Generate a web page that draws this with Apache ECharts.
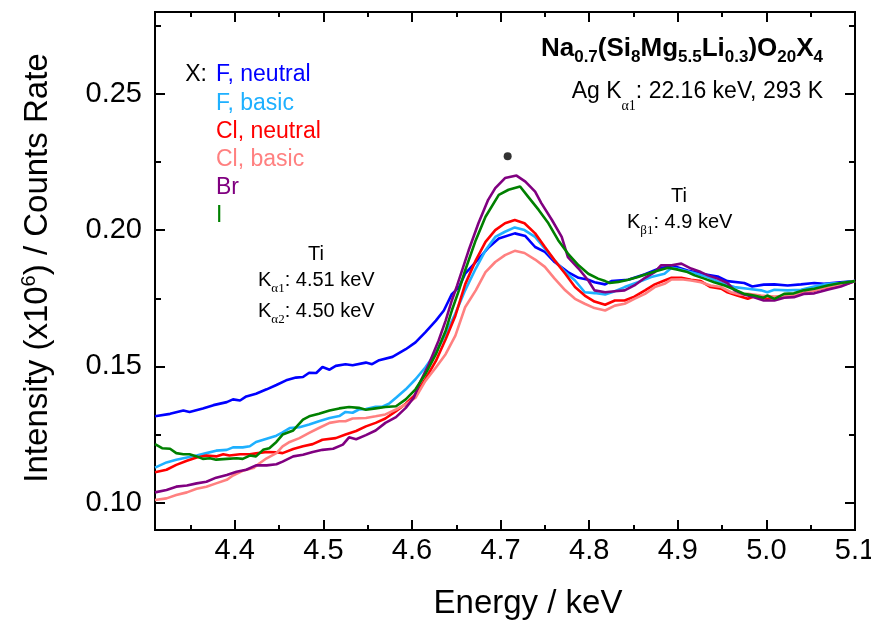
<!DOCTYPE html>
<html>
<head>
<meta charset="utf-8">
<script src="https://cdn.jsdelivr.net/npm/echarts@6/dist/echarts.min.js"></script>
<style>
html, body { margin: 0; padding: 0; background: #fff; }
#chart { width: 871px; height: 626px; }
</style>
</head>
<body>
<div id="chart"></div>
<script>
// energy (keV), intensity pairs
var fNeutral = [[4.310,0.1317],[4.327,0.1326],[4.342,0.1338],[4.349,0.1333],[4.364,0.1346],[4.376,0.1358],[4.391,0.1369],[4.398,0.1379],[4.406,0.1375],[4.413,0.1390],[4.424,0.1400],[4.436,0.1416],[4.447,0.1432],[4.458,0.1449],[4.469,0.1459],[4.477,0.1461],[4.484,0.1477],[4.492,0.1476],[4.499,0.1498],[4.507,0.1488],[4.514,0.1502],[4.525,0.1508],[4.533,0.1504],[4.548,0.1514],[4.555,0.1508],[4.563,0.1523],[4.578,0.1535],[4.593,0.1563],[4.604,0.1588],[4.615,0.1625],[4.627,0.1668],[4.636,0.1705],[4.645,0.1765],[4.653,0.1790],[4.660,0.1840],[4.672,0.1883],[4.687,0.1938],[4.698,0.1969],[4.716,0.1988],[4.728,0.1978],[4.739,0.1938],[4.750,0.1920],[4.761,0.1883],[4.776,0.1846],[4.788,0.1825],[4.799,0.1818],[4.806,0.1809],[4.818,0.1801],[4.825,0.1813],[4.844,0.1818],[4.863,0.1838],[4.881,0.1862],[4.896,0.1867],[4.911,0.1852],[4.930,0.1838],[4.945,0.1830],[4.956,0.1813],[4.975,0.1806],[4.984,0.1793],[4.997,0.1800],[5.009,0.1801],[5.024,0.1797],[5.039,0.1801],[5.054,0.1806],[5.065,0.1803],[5.080,0.1808],[5.100,0.1813]];
var fBasic = [[4.310,0.1129],[4.323,0.1148],[4.334,0.1158],[4.346,0.1166],[4.357,0.1173],[4.368,0.1182],[4.379,0.1191],[4.391,0.1194],[4.398,0.1203],[4.409,0.1203],[4.417,0.1207],[4.424,0.1223],[4.436,0.1235],[4.447,0.1246],[4.454,0.1258],[4.462,0.1274],[4.473,0.1277],[4.484,0.1287],[4.495,0.1299],[4.507,0.1311],[4.518,0.1318],[4.525,0.1333],[4.533,0.1330],[4.540,0.1342],[4.548,0.1344],[4.559,0.1352],[4.567,0.1353],[4.574,0.1363],[4.582,0.1385],[4.593,0.1416],[4.604,0.1453],[4.615,0.1496],[4.627,0.1551],[4.638,0.1619],[4.649,0.1694],[4.660,0.1779],[4.672,0.1859],[4.683,0.1926],[4.694,0.1975],[4.705,0.1994],[4.716,0.2010],[4.727,0.2000],[4.739,0.1975],[4.750,0.1932],[4.761,0.1889],[4.773,0.1846],[4.784,0.1815],[4.795,0.1772],[4.806,0.1769],[4.818,0.1764],[4.829,0.1776],[4.840,0.1791],[4.855,0.1809],[4.870,0.1828],[4.885,0.1840],[4.893,0.1862],[4.904,0.1855],[4.919,0.1842],[4.934,0.1828],[4.949,0.1806],[4.964,0.1791],[4.979,0.1785],[4.994,0.1779],[5.001,0.1772],[5.009,0.1781],[5.024,0.1779],[5.039,0.1781],[5.054,0.1793],[5.069,0.1803],[5.084,0.1806],[5.100,0.1813]];
var clNeutral = [[4.310,0.1112],[4.323,0.1121],[4.334,0.1139],[4.346,0.1154],[4.357,0.1166],[4.368,0.1173],[4.379,0.1170],[4.387,0.1178],[4.394,0.1173],[4.406,0.1178],[4.417,0.1178],[4.424,0.1181],[4.436,0.1186],[4.447,0.1185],[4.454,0.1182],[4.466,0.1197],[4.477,0.1207],[4.488,0.1215],[4.499,0.1231],[4.514,0.1237],[4.525,0.1250],[4.537,0.1263],[4.548,0.1280],[4.559,0.1293],[4.570,0.1309],[4.582,0.1336],[4.593,0.1363],[4.604,0.1397],[4.615,0.1453],[4.627,0.1520],[4.638,0.1600],[4.649,0.1686],[4.660,0.1801],[4.672,0.1889],[4.683,0.1957],[4.694,0.2000],[4.705,0.2025],[4.716,0.2037],[4.727,0.2025],[4.739,0.1988],[4.750,0.1938],[4.761,0.1889],[4.773,0.1840],[4.784,0.1791],[4.795,0.1760],[4.806,0.1738],[4.818,0.1726],[4.829,0.1742],[4.840,0.1742],[4.851,0.1756],[4.863,0.1779],[4.874,0.1801],[4.885,0.1815],[4.893,0.1825],[4.904,0.1825],[4.915,0.1818],[4.926,0.1813],[4.937,0.1791],[4.949,0.1785],[4.956,0.1772],[4.967,0.1760],[4.979,0.1748],[4.986,0.1756],[4.994,0.1752],[5.001,0.1748],[5.016,0.1756],[5.031,0.1760],[5.046,0.1772],[5.061,0.1785],[5.076,0.1793],[5.091,0.1803],[5.100,0.1813]];
var clBasic = [[4.310,0.1010],[4.323,0.1016],[4.334,0.1028],[4.346,0.1038],[4.357,0.1051],[4.368,0.1059],[4.379,0.1071],[4.391,0.1084],[4.398,0.1100],[4.409,0.1117],[4.421,0.1127],[4.428,0.1145],[4.436,0.1163],[4.447,0.1182],[4.454,0.1207],[4.462,0.1223],[4.473,0.1237],[4.484,0.1256],[4.495,0.1274],[4.507,0.1293],[4.518,0.1299],[4.525,0.1299],[4.533,0.1309],[4.548,0.1311],[4.559,0.1317],[4.570,0.1324],[4.582,0.1342],[4.593,0.1361],[4.604,0.1385],[4.615,0.1446],[4.627,0.1496],[4.638,0.1545],[4.649,0.1613],[4.660,0.1717],[4.672,0.1779],[4.683,0.1846],[4.694,0.1883],[4.705,0.1908],[4.716,0.1924],[4.727,0.1916],[4.739,0.1892],[4.750,0.1865],[4.761,0.1822],[4.773,0.1779],[4.784,0.1748],[4.795,0.1730],[4.806,0.1714],[4.818,0.1705],[4.829,0.1723],[4.840,0.1730],[4.851,0.1748],[4.863,0.1766],[4.874,0.1791],[4.885,0.1803],[4.893,0.1819],[4.904,0.1820],[4.915,0.1815],[4.926,0.1809],[4.937,0.1797],[4.949,0.1791],[4.960,0.1772],[4.971,0.1763],[4.979,0.1766],[4.994,0.1760],[5.009,0.1756],[5.024,0.1760],[5.039,0.1766],[5.054,0.1779],[5.069,0.1791],[5.084,0.1801],[5.100,0.1813]];
var br = [[4.310,0.1038],[4.323,0.1047],[4.334,0.1059],[4.346,0.1063],[4.357,0.1071],[4.368,0.1077],[4.379,0.1092],[4.391,0.1102],[4.402,0.1114],[4.413,0.1121],[4.424,0.1137],[4.436,0.1137],[4.447,0.1141],[4.454,0.1151],[4.466,0.1170],[4.477,0.1176],[4.488,0.1186],[4.499,0.1194],[4.511,0.1198],[4.522,0.1213],[4.529,0.1240],[4.537,0.1233],[4.548,0.1248],[4.559,0.1265],[4.570,0.1293],[4.582,0.1314],[4.593,0.1348],[4.602,0.1385],[4.608,0.1434],[4.619,0.1508],[4.630,0.1594],[4.638,0.1668],[4.645,0.1742],[4.651,0.1797],[4.664,0.1926],[4.675,0.2025],[4.686,0.2111],[4.694,0.2154],[4.705,0.2191],[4.718,0.2200],[4.728,0.2178],[4.739,0.2141],[4.746,0.2099],[4.758,0.2037],[4.769,0.1975],[4.776,0.1901],[4.788,0.1859],[4.799,0.1815],[4.806,0.1779],[4.818,0.1772],[4.829,0.1776],[4.840,0.1779],[4.851,0.1797],[4.863,0.1825],[4.874,0.1846],[4.881,0.1871],[4.893,0.1871],[4.904,0.1877],[4.915,0.1859],[4.926,0.1846],[4.934,0.1834],[4.945,0.1822],[4.956,0.1806],[4.964,0.1779],[4.975,0.1764],[4.986,0.1754],[4.997,0.1742],[5.009,0.1742],[5.020,0.1752],[5.031,0.1754],[5.042,0.1766],[5.054,0.1768],[5.069,0.1781],[5.084,0.1793],[5.100,0.1813]];
var iodide = [[4.310,0.1215],[4.318,0.1200],[4.327,0.1198],[4.334,0.1182],[4.342,0.1178],[4.349,0.1178],[4.357,0.1170],[4.364,0.1161],[4.372,0.1163],[4.379,0.1158],[4.391,0.1161],[4.402,0.1163],[4.409,0.1161],[4.417,0.1173],[4.424,0.1170],[4.432,0.1194],[4.439,0.1200],[4.447,0.1223],[4.454,0.1250],[4.466,0.1265],[4.477,0.1305],[4.484,0.1317],[4.495,0.1326],[4.507,0.1338],[4.518,0.1346],[4.529,0.1351],[4.540,0.1348],[4.548,0.1341],[4.559,0.1346],[4.570,0.1351],[4.582,0.1354],[4.593,0.1379],[4.604,0.1416],[4.615,0.1471],[4.627,0.1545],[4.638,0.1631],[4.645,0.1705],[4.653,0.1779],[4.660,0.1852],[4.672,0.1963],[4.683,0.2049],[4.698,0.2129],[4.709,0.2148],[4.722,0.2160],[4.731,0.2123],[4.743,0.2074],[4.754,0.2025],[4.765,0.1963],[4.776,0.1914],[4.788,0.1871],[4.799,0.1840],[4.810,0.1822],[4.818,0.1813],[4.823,0.1806],[4.833,0.1810],[4.844,0.1818],[4.855,0.1828],[4.866,0.1840],[4.878,0.1852],[4.889,0.1862],[4.900,0.1855],[4.911,0.1846],[4.919,0.1834],[4.930,0.1822],[4.941,0.1809],[4.953,0.1797],[4.964,0.1782],[4.975,0.1766],[4.986,0.1760],[4.997,0.1752],[5.001,0.1760],[5.009,0.1748],[5.020,0.1766],[5.031,0.1768],[5.042,0.1779],[5.054,0.1785],[5.069,0.1797],[5.084,0.1806],[5.100,0.1813]];
var peakMark = [[4.708, 0.2271]];

var seriesNames = ['F, neutral', 'F, basic', 'Cl, neutral', 'Cl, basic', 'Br', 'I'];
var seriesColors = ['#0000ff', '#1eb0ff', '#ff0000', '#ff8080', '#800080', '#008000'];
var seriesData = [fNeutral, fBasic, clNeutral, clBasic, br, iodide];

var xMajor = [4.4, 4.5, 4.6, 4.7, 4.8, 4.9, 5.0, 5.1];
var xMinor = [4.35, 4.45, 4.55, 4.65, 4.75, 4.85, 4.95, 5.05];
var yMajor = [0.10, 0.15, 0.20, 0.25];
var yMinor = [0.125, 0.175, 0.225, 0.275];

var font = 'Liberation Sans, Arial, sans-serif';
var serif = 'Liberation Serif, Times New Roman, serif';

function xAxisDef(pos, ticks, len, labels) {
  return {
    type: 'value', position: pos, min: 4.31, max: 5.1,
    axisLine: { show: true, onZero: false, lineStyle: { color: '#000', width: 2 } },
    axisTick: { show: true, inside: true, length: len, customValues: ticks, lineStyle: { color: '#000', width: 2 } },
    axisLabel: labels ? {
      customValues: ticks, margin: 6, color: '#000', fontSize: 29, fontFamily: font,
      formatter: function(v) { return v.toFixed(1); }
    } : { show: false },
    splitLine: { show: false }
  };
}
function yAxisDef(pos, ticks, len, labels) {
  return {
    type: 'value', position: pos, min: 0.09, max: 0.28,
    axisLine: { show: true, onZero: false, lineStyle: { color: '#000', width: 2 } },
    axisTick: { show: true, inside: true, length: len, customValues: ticks, lineStyle: { color: '#000', width: 2 } },
    axisLabel: labels ? {
      customValues: ticks, margin: 13, color: '#000', fontSize: 29, fontFamily: font,
      formatter: function(v) { return v.toFixed(2); }
    } : { show: false },
    splitLine: { show: false }
  };
}

var series = seriesData.map(function(d, i) {
  return {
    name: seriesNames[i], type: 'line', data: d, symbol: 'none',
    lineStyle: { color: seriesColors[i], width: 2.6 }, z: 2 + i
  };
});
series.push({
  type: 'scatter', data: peakMark, symbolSize: 8,
  itemStyle: { color: '#000' }, z: 10
});

function txt(x, y, text, size, color, align, extra) {
  var o = {
    type: 'text', x: x, y: y, z: 100,
    style: { text: text, fontSize: size, fontFamily: font, fill: color || '#000',
             align: align || 'left', verticalAlign: 'middle' }
  };
  if (extra) for (var k in extra) o.style[k] = extra[k];
  return o;
}

var graphics = [
  txt(207, 75, 'X:', 23, '#000', 'right')
];
seriesNames.forEach(function(n, i) {
  graphics.push(txt(216, 75 + i * 28.2, n, 23, seriesColors[i], 'left'));
});

graphics.push(txt(823, 49,
  '{b|Na}{s|0.7}{b|(Si}{s|8}{b|Mg}{s|5.5}{b|Li}{s|0.3}{b|)O}{s|20}{b|X}{s|4}', 26, '#000', 'right', {
  rich: {
    b: { fontSize: 26, fontWeight: 'bold', fontFamily: font },
    s: { fontSize: 17, fontWeight: 'bold', fontFamily: font, padding: [17, 0, 0, 0] }
  }
}));
graphics.push(txt(823, 92, '{n|Ag K}{s|\u03b11}{n|: 22.16 keV, 293 K}', 23, '#000', 'right', {
  rich: {
    n: { fontSize: 23, fontFamily: font },
    s: { fontSize: 14, fontFamily: serif, padding: [28, 0, 0, 0] }
  }
}));

var subRich = {
  n: { fontSize: 20, fontFamily: font },
  s: { fontSize: 13, fontFamily: serif, padding: [18, 0, 0, 0] }
};
graphics.push(txt(679, 196, 'Ti', 20, '#000', 'center'));
graphics.push(txt(627, 222, '{n|K}{s|\u03b21}{n|: 4.9 keV}', 20, '#000', 'left', { rich: subRich }));
graphics.push(txt(316, 254, 'Ti', 20, '#000', 'center'));
graphics.push(txt(258, 280, '{n|K}{s|\u03b11}{n|: 4.51 keV}', 20, '#000', 'left', { rich: subRich }));
graphics.push(txt(258, 311, '{n|K}{s|\u03b12}{n|: 4.50 keV}', 20, '#000', 'left', { rich: subRich }));

// axis titles
graphics.push(txt(528, 604, 'Energy / keV', 33, '#000', 'center'));
graphics.push({
  type: 'text', x: 38, y: 268, rotation: Math.PI / 2, z: 100,
  style: {
    text: '{n|Intensity (x10}{p|6}{n|) / Counts Rate}', fontSize: 33, fontFamily: font,
    fill: '#000', align: 'center', verticalAlign: 'middle',
    rich: {
      n: { fontSize: 33, fontFamily: font },
      p: { fontSize: 20, fontFamily: font, padding: [0, 0, 18, 0] }
    }
  }
});

var chart = echarts.init(document.getElementById('chart'), null, { renderer: 'canvas' });
chart.setOption({
  animation: false,
  backgroundColor: '#fff',
  grid: { left: 155, right: 16, top: 12, bottom: 96, containLabel: false, outerBoundsMode: 'none' },
  xAxis: [
    xAxisDef('bottom', xMajor, 10, true),
    xAxisDef('bottom', xMinor, 5, false),
    xAxisDef('top', xMajor, 10, false),
    xAxisDef('top', xMinor, 5, false)
  ],
  yAxis: [
    yAxisDef('left', yMajor, 10, true),
    yAxisDef('left', yMinor, 6, false),
    yAxisDef('right', yMajor, 10, false),
    yAxisDef('right', yMinor, 6, false)
  ],
  series: series,
  graphic: graphics
});
window.addEventListener('resize', function() { chart.resize(); });
</script>
</body>
</html>
